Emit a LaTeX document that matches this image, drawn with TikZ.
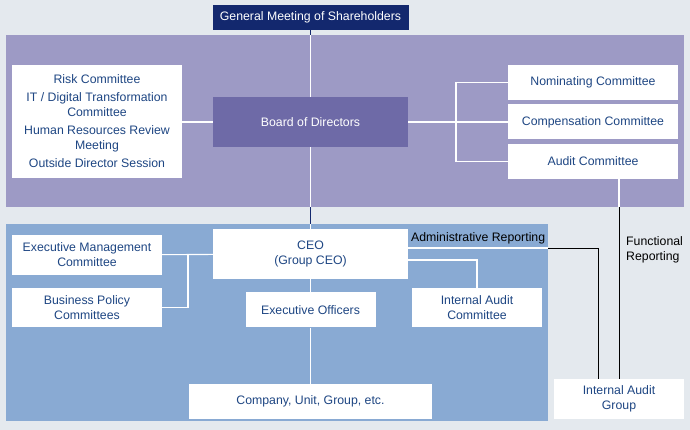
\documentclass[tikz,border=0pt]{standalone}
\usepackage{fontspec}
\setmainfont{Liberation Sans}
\usetikzlibrary{positioning}

\definecolor{bggray}{HTML}{E4E9EE}
\definecolor{navy}{HTML}{13286E}
\definecolor{purpleband}{HTML}{9D9AC5}
\definecolor{boardpurple}{HTML}{6E6AA7}
\definecolor{blueband}{HTML}{89AAD3}
\definecolor{textblue}{HTML}{1E4683}

\begin{document}
\begin{tikzpicture}
 [x=1pt, y=1pt,
  every node/.style={font=\fontsize{12.3}{15}\selectfont},
  white box/.style={rectangle, fill=white, text=textblue, align=center, inner sep=0pt},
  dark box/.style={rectangle, text=white, align=center, inner sep=0pt},
  band/.style={rectangle, inner sep=0pt},
  wline/.style={draw=white, line width=1.1pt},
  bline/.style={draw=black, line width=0.9pt},
  nline/.style={draw=navy, line width=1.1pt}]

 % background and the two bands
 \fill[bggray] (0,0) rectangle (690,430);
 \node[band, fill=purpleband, minimum width=678pt, minimum height=172pt] (boardband) at (345,309) {};
 \node[band, fill=blueband, minimum width=542pt, minimum height=197pt] (execband) at (277,107.5) {};

 % nodes
 \node[dark box, fill=navy, minimum width=196pt, minimum height=25pt] (gm) at (310.5,412.5) {General Meeting of Shareholders};
 \node[dark box, fill=boardpurple, minimum width=195pt, minimum height=50pt] (board) at (310.5,308) {Board of Directors};
 \node[white box, minimum width=170pt, minimum height=113pt] (risk) at (97,308.5)
   {Risk Committee\\[3pt]IT / Digital Transformation\\Committee\\[3pt]Human Resources Review\\Meeting\\[3pt]Outside Director Session};

 \node[white box, minimum width=170pt, minimum height=35pt] (nom) at (593,347.5) {Nominating Committee};
 \node[white box, minimum width=170pt, minimum height=35pt] (comp) [below=4pt of nom] {Compensation Committee};
 \node[white box, minimum width=170pt, minimum height=35pt] (audit) [below=4pt of comp] {Audit Committee};

 \node[white box, minimum width=195pt, minimum height=50pt] (ceo) at (310.5,176) {CEO\\(Group CEO)};
 \node[white box, minimum width=150pt, minimum height=40pt] (emc) at (87,175) {Executive Management\\Committee};
 \node[white box, minimum width=150pt, minimum height=39pt] (bpc) [below=13pt of emc] {Business Policy\\Committees};
 \node[white box, minimum width=130pt, minimum height=35pt] (eo) [below=13pt of ceo] {Executive Officers};
 \node[white box, minimum width=130pt, minimum height=39pt] (iac) at (477,122.5) {Internal Audit\\Committee};
 \node[white box, minimum width=243pt, minimum height=35pt] (company) at (310.5,28.5) {Company, Unit, Group, etc.};
 \node[white box, minimum width=130pt, minimum height=40pt] (iag) at (619,31) {Internal Audit\\Group};

 \node[anchor=base west, inner sep=0pt] (admtxt) at (411,188) {Administrative Reporting};
 \node[anchor=west, align=left, inner sep=0pt] (functxt) at (626,180) {Functional\\Reporting};

 \coordinate (rbus) at (456,308);
 \coordinate (lbus) at (188,175);
 \coordinate (admturn) at (598,182);

 % connectors
 \path
   (gm) edge [nline] (board)
   (board) edge [nline] (ceo)
   (ceo) edge [wline] (emc)
   (ceo) edge [wline] (eo)
   (eo) edge [wline] (company);

 \draw[wline] (board.north |- boardband.north) -- (board.north);
 \draw[wline] (board.south) -- (board.south |- boardband.south);
 \draw[wline] (ceo.north |- execband.north) -- (ceo.north);

 \draw[wline] (board.west) -- (board.west -| risk.east);
 \draw[wline] (board.east) -- (board.east -| comp.west);
 \draw[wline] (nom.west) -| (rbus) |- (audit.west);

 \draw[wline] (emc.east -| lbus) |- (bpc.east);
 \draw[wline] ([yshift=-6pt]ceo.east) -| (iac.north);

 \draw[wline] ([yshift=6pt]ceo.east) -- (execband.east |- admturn);
 \draw[bline] (execband.east |- admturn) -| (iag.north -| admturn);

 \draw[wline] (iag.north |- audit.south) -- (iag.north |- boardband.south);
 \draw[bline] (iag.north |- boardband.south) -- (iag.north);
\end{tikzpicture}
\end{document}
